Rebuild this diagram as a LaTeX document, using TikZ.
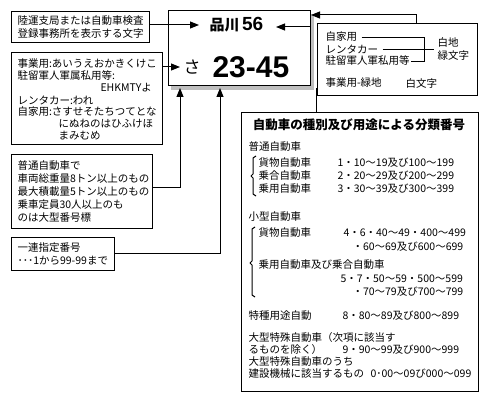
\documentclass[tikz,border=0pt]{standalone}
\usepackage{fontspec}
\usepackage{graphicx}
\setmainfont{Noto Sans CJK JP}
\newfontfamily\platefont{Liberation Sans}
\usetikzlibrary{arrows.meta}
\begin{document}
\begin{tikzpicture}[x=1pt,y=-1pt,line width=1pt,
  box/.style={draw,anchor=north west,inner sep=0pt,outer sep=0pt},
  txt/.style={anchor=west,inner sep=0pt,font=\fontsize{10.5}{12}\selectfont},
  ttl/.style={anchor=center,inner sep=0pt,font=\bfseries\fontsize{12.5}{13}\selectfont},
  arr/.style={-{Triangle[length=9pt,width=7pt]}},
  link/.style={line width=0.9pt},
  brk/.style={line width=1pt,line join=round}]
\useasboundingbox (0,0) rectangle (486,403);
% ---------- plate ----------
\fill[gray!50] (171,14) rectangle (314,90);
\node[box,fill=white,minimum width=142pt,minimum height=75pt] (plate) at (168,11) {};
\node[anchor=west,inner sep=0pt,font=\bfseries\fontsize{15}{15}\selectfont] (shina) at (209,25) {品川\,{\platefont\bfseries\fontsize{19}{19}\selectfont 56}};
\node[anchor=west,inner sep=0pt,font=\fontsize{17}{17}\selectfont] (sa) at (183,67) {さ};
\node[anchor=west,inner sep=0pt,font=\platefont\bfseries\fontsize{30}{30}\selectfont] (num) at (212,67) {23-45};
% ---------- left boxes ----------
\node[box,minimum width=138pt,minimum height=31pt] (b1) at (11,12) {};
\node[txt] (b1a) at (17,21) {陸運支局または自動車検査};
\node[txt] (b1b) at (17,34) {登録事務所を表示する文字};

\node[box,minimum width=151pt,minimum height=92pt] (b2) at (11,53) {};
\node[txt] (b2a) at (17,64) {事業用:あいうえおかきくけこ};
\node[txt] (b2b) at (17,76) {駐留軍人軍属私用等:};
\node[txt] (b2c) at (100,88) {EHKMTYよ};
\node[txt] (b2d) at (17,100) {レンタカー:われ};
\node[txt] (b2e) at (17,112) {自家用:さすせそたちつてとな};
\node[txt] (b2f) at (58,124) {にぬねのはひふけほ};
\node[txt] (b2g) at (58,136) {まみむめ};

\node[box,minimum width=141pt,minimum height=73pt] (b3) at (11,155) {};
\node[txt] (b3a) at (17,166) {普通自動車で};
\node[txt] (b3b) at (17,179) {車両総重量8トン以上のもの};
\node[txt] (b3c) at (17,192) {最大積載量5トン以上のもの};
\node[txt] (b3d) at (17,205) {乗車定員30人以上のも};
\node[txt] (b3e) at (17,218) {のは大型番号標};

\node[box,minimum width=103pt,minimum height=33pt] (b4) at (11,237) {};
\node[txt] (b4a) at (17,248) {一連指定番号};
\node[txt] (b4b) at (17,261) {･･･1から99-99まで};
% ---------- colour box ----------
\node[box,minimum width=160pt,minimum height=72pt] (b5) at (317,24) {};
\node[txt] (k1) at (325,37) {自家用};
\node[txt] (k2) at (325,49) {レンタカー};
\node[txt] (k3) at (325,61) {駐留軍人軍私用等};
\node[txt] (k4) at (437,42) {白地};
\node[txt] (k5) at (437,56) {緑文字};
\node[txt] (k6) at (325,83) {事業用-緑地};
\node[txt] (k7) at (405,83) {白文字};
\coordinate (v1) at (424,37);
\coordinate (v2) at (424,61);
\coordinate (v3) at (434,49);
\draw[link] ([xshift=4pt]k1.east) -- (v1) -- (v2) -- ([xshift=1pt]k3.east);
\draw[link] ([xshift=4pt]k2.east) -- (v3);
% ---------- classification box ----------
\node[box,minimum width=237pt,minimum height=278pt] (b6) at (241,113) {};
\node[ttl] (t0) at (359,125) {自動車の種別及び用途による分類番号};
\node[txt] (g1) at (248,147) {普通自動車};
\node[txt] (g1a) at (258,163) {貨物自動車};
\node[txt] (g1an) at (337,163) {1・10～19及び100～199};
\node[txt] (g1b) at (258,176) {乗合自動車};
\node[txt] (g1bn) at (337,176) {2・20～29及び200～299};
\node[txt] (g1c) at (258,189) {乗用自動車};
\node[txt] (g1cn) at (337,189) {3・30～39及び300～399};
\node[txt] (g2) at (248,217) {小型自動車};
\node[txt] (g2a) at (258,233) {貨物自動車};
\node[txt] (g2an) at (343,233) {4・6・40～49・400～499};
\node[txt] (g2an2) at (352,247) {・60～69及び600～699};
\node[txt] (g2b) at (258,265) {乗用自動車及び乗合自動車};
\node[txt] (g2bn) at (340,279) {5・7・50～59・500～599};
\node[txt] (g2bn2) at (352,292) {・70～79及び700～799};
\node[txt] (g3) at (248,316) {特種用途自動};
\node[txt] (g3n) at (342,316) {8・80～89及び800～899};
\node[txt] (g4) at (248,338) {大型特殊自動車（次項に該当す};
\node[txt] (g4b) at (248,350) {るものを除く）};
\node[txt] (g4n) at (342,350) {9・90～99及び900～999};
\node[txt] (g5) at (248,362) {大型特殊自動車のうち};
\node[txt] (g5b) at (248,374) {建設機械に該当するもの};
\node[txt] (g5n) at (370,374) {0･00～09び000～099};
% brackets
\draw[brk] (256,156) -- (253,158) -- (253,174) -- (251,176) -- (253,178) -- (253,194) -- (256,196);
\draw[brk] (255,227) -- (252,229) -- (252,261) -- (250,263) -- (252,265) -- (252,295) -- (255,297);
% ---------- connectors ----------
\coordinate (t1) at (199,25);
\coordinate (t2) at (180,67);
\coordinate (c3) at (180,187);
\coordinate (p3) at (180,88);
\coordinate (c4) at (220,253);
\coordinate (p4) at (220,88);
\coordinate (c5) at (416,15);
\coordinate (p5) at (311,15);
\coordinate (q6) at (310,27);
\coordinate (t6) at (276,27);
\coordinate (c7) at (316,88);
\draw[arr] (b1.east |- t1) -- (t1);
\draw[arr] (b2.east |- t2) -- (t2);
\draw[arr] (b3.east |- c3) -- (c3) -- (p3);
\draw[arr] (b4.east |- c4) -- (c4) -- (p4);
\draw[arr] (b5.north -| c5) -- (c5) -- (p5);
\draw[arr] (q6) -- (t6);
\draw (b6.north -| c7) -- (c7);
\end{tikzpicture}
\end{document}
